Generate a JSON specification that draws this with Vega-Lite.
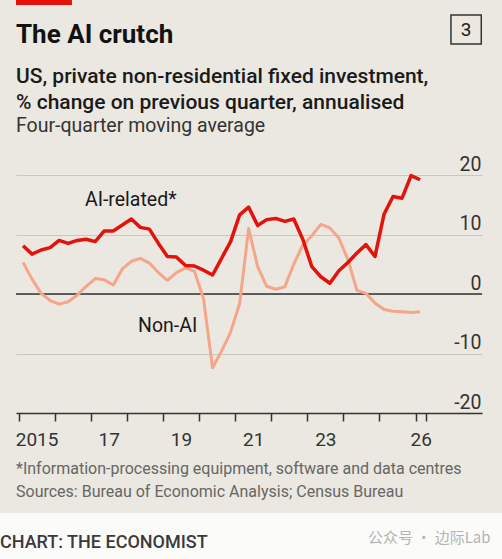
{
  "$schema": "https://vega.github.io/schema/vega-lite/v6.json",
  "width": 466,
  "height": 238,
  "autosize": {"type": "none"},
  "padding": {"left": 16, "top": 175, "right": 20, "bottom": 146},
  "background": "#eae8e0",
  "config": {"view": {"stroke": null}, "font": "Roboto"},
  "datasets": {
    "series": [
      {"t": 2015.125, "ai": 8.1, "nonai": 5.3},
      {"t": 2015.375, "ai": 6.7, "nonai": 2.5},
      {"t": 2015.625, "ai": 7.4, "nonai": 0.1},
      {"t": 2015.875, "ai": 7.8, "nonai": -1.1},
      {"t": 2016.125, "ai": 9.0, "nonai": -1.7},
      {"t": 2016.375, "ai": 8.5, "nonai": -1.3},
      {"t": 2016.625, "ai": 9.0, "nonai": -0.2},
      {"t": 2016.875, "ai": 9.2, "nonai": 1.3},
      {"t": 2017.125, "ai": 8.8, "nonai": 2.6},
      {"t": 2017.375, "ai": 10.6, "nonai": 2.4},
      {"t": 2017.625, "ai": 10.6, "nonai": 1.5},
      {"t": 2017.875, "ai": 11.6, "nonai": 4.2},
      {"t": 2018.125, "ai": 12.6, "nonai": 5.5},
      {"t": 2018.375, "ai": 11.2, "nonai": 6.0},
      {"t": 2018.625, "ai": 10.9, "nonai": 5.2},
      {"t": 2018.875, "ai": 8.5, "nonai": 3.6},
      {"t": 2019.125, "ai": 6.3, "nonai": 2.3},
      {"t": 2019.375, "ai": 6.2, "nonai": 3.6},
      {"t": 2019.625, "ai": 4.8, "nonai": 4.4},
      {"t": 2019.875, "ai": 4.7, "nonai": 3.8},
      {"t": 2020.125, "ai": 4.0, "nonai": -0.8},
      {"t": 2020.375, "ai": 3.2, "nonai": -12.4},
      {"t": 2020.625, "ai": 6.0, "nonai": -9.6},
      {"t": 2020.875, "ai": 8.8, "nonai": -6.4},
      {"t": 2021.125, "ai": 13.3, "nonai": -1.6},
      {"t": 2021.375, "ai": 14.6, "nonai": 11.0},
      {"t": 2021.625, "ai": 11.5, "nonai": 4.6},
      {"t": 2021.875, "ai": 12.5, "nonai": 1.3},
      {"t": 2022.125, "ai": 12.7, "nonai": 0.8},
      {"t": 2022.375, "ai": 12.2, "nonai": 1.2},
      {"t": 2022.625, "ai": 12.6, "nonai": 5.0},
      {"t": 2022.875, "ai": 9.2, "nonai": 8.2},
      {"t": 2023.125, "ai": 4.6, "nonai": 9.8},
      {"t": 2023.375, "ai": 2.9, "nonai": 11.7},
      {"t": 2023.625, "ai": 1.8, "nonai": 11.1},
      {"t": 2023.875, "ai": 3.9, "nonai": 9.4},
      {"t": 2024.125, "ai": 5.3, "nonai": 5.8},
      {"t": 2024.375, "ai": 6.9, "nonai": 0.6},
      {"t": 2024.625, "ai": 8.3, "nonai": 0.1},
      {"t": 2024.875, "ai": 6.3, "nonai": -1.5},
      {"t": 2025.125, "ai": 13.4, "nonai": -2.6},
      {"t": 2025.375, "ai": 16.4, "nonai": -2.9},
      {"t": 2025.625, "ai": 16.1, "nonai": -3.0},
      {"t": 2025.875, "ai": 19.9, "nonai": -3.1},
      {"t": 2026.125, "ai": 19.2, "nonai": -3.0}
    ],
    "one": [{}]
  },
  "resolve": {"axis": {"x": "independent", "y": "independent"}},
  "layer": [
    {
      "data": {"name": "one"},
      "mark": {"type": "rect", "fill": "#fbfbfa"},
      "encoding": {
        "x": {"datum": 2014.3, "type": "quantitative", "axis": null, "scale": {"domain": [2014.93, 2027.84], "nice": false, "zero": false}},
        "x2": {"datum": 2028.6},
        "y": {"datum": -36.8, "type": "quantitative", "axis": null, "scale": {"domain": [-20, 20], "nice": false, "zero": false}},
        "y2": {"datum": -47}
      }
    },
    {
      "data": {"name": "one"},
      "mark": {"type": "rect", "fill": "#e3120b"},
      "encoding": {
        "x": {"datum": 2014.93, "type": "quantitative", "axis": null},
        "x2": {"datum": 2016.48},
        "y": {"datum": 50.5, "type": "quantitative", "axis": null},
        "y2": {"datum": 48.57}
      }
    },
    {
      "data": {"name": "one"},
      "mark": {"type": "rect", "fill": null, "stroke": "#333333", "strokeWidth": 1.5},
      "encoding": {
        "x": {"datum": 2026.98, "type": "quantitative", "axis": null},
        "x2": {"datum": 2027.82},
        "y": {"datum": 46.89, "type": "quantitative", "axis": null},
        "y2": {"datum": 42.02}
      }
    },
    {
      "data": {"name": "one"},
      "mark": {"type": "text", "text": "3", "align": "center", "baseline": "middle", "fontSize": 19, "color": "#1a1a1a"},
      "encoding": {
        "x": {"datum": 2027.4, "type": "quantitative", "axis": null},
        "y": {"datum": 44.45, "type": "quantitative", "axis": null}
      }
    },
    {
      "data": {"name": "one"},
      "mark": {"type": "text", "text": "The AI crutch", "align": "left", "baseline": "alphabetic", "fontSize": 26, "fontWeight": "bold", "color": "#121212"},
      "encoding": {
        "x": {"datum": 2014.93, "type": "quantitative", "axis": null},
        "y": {"datum": 42.18, "type": "quantitative", "axis": null}
      }
    },
    {
      "data": {"name": "one"},
      "mark": {"type": "text", "text": "US, private non-residential fixed investment,", "align": "left", "baseline": "alphabetic", "fontSize": 21, "fontWeight": 500, "color": "#1a1a1a"},
      "encoding": {
        "x": {"datum": 2014.93, "type": "quantitative", "axis": null},
        "y": {"datum": 35.46, "type": "quantitative", "axis": null}
      }
    },
    {
      "data": {"name": "one"},
      "mark": {"type": "text", "text": "% change on previous quarter, annualised", "align": "left", "baseline": "alphabetic", "fontSize": 21, "fontWeight": 500, "color": "#1a1a1a"},
      "encoding": {
        "x": {"datum": 2014.93, "type": "quantitative", "axis": null},
        "y": {"datum": 31.09, "type": "quantitative", "axis": null}
      }
    },
    {
      "data": {"name": "one"},
      "mark": {"type": "text", "text": "Four-quarter moving average", "align": "left", "baseline": "alphabetic", "fontSize": 19.5, "fontWeight": "normal", "color": "#333333"},
      "encoding": {
        "x": {"datum": 2014.93, "type": "quantitative", "axis": null},
        "y": {"datum": 27.15, "type": "quantitative", "axis": null}
      }
    },
    {
      "data": {"name": "one"},
      "mark": {"type": "rule", "stroke": "#333333", "strokeWidth": 1.5},
      "encoding": {
        "y": {"datum": 0, "type": "quantitative", "axis": null}
      }
    },
    {
      "data": {"name": "series"},
      "mark": {"type": "line", "stroke": "#f5a68a", "strokeWidth": 3, "strokeJoin": "round", "strokeCap": "butt"},
      "encoding": {
        "x": {
          "field": "t", "type": "quantitative",
          "axis": {
            "orient": "bottom",
            "values": [2015, 2016, 2017, 2018, 2019, 2020, 2021, 2022, 2023, 2024, 2025, 2026, 2026.29],
            "labels": false, "ticks": true, "tickSize": 8, "tickWidth": 1.5, "tickColor": "#333333",
            "domain": true, "domainColor": "#333333", "domainWidth": 1.5, "grid": false, "title": null
          }
        },
        "y": {
          "field": "nonai", "type": "quantitative",
          "axis": {
            "orient": "right", "values": [-20, -10, 0, 10, 20], "grid": true, "gridColor": "#c9c8c0", "gridWidth": 1,
            "ticks": false, "tickSize": 0, "domain": false, "labelAlign": "right", "labelPadding": -1,
            "labelBaseline": "alphabetic", "labelOffset": -5, "labelFlush": false, "labelOverlap": false,
            "labelFontSize": 19.5, "labelColor": "#333333",
            "labelExpr": "datum.value < 0 ? '-' + abs(datum.value) : '' + datum.value", "title": null
          }
        }
      }
    },
    {
      "data": {"name": "series"},
      "mark": {"type": "line", "stroke": "#e3120b", "strokeWidth": 3.5, "strokeJoin": "round", "strokeCap": "butt"},
      "encoding": {
        "x": {
          "field": "t", "type": "quantitative",
          "axis": {
            "orient": "bottom",
            "values": [2015.5, 2017.5, 2019.5, 2021.5, 2023.5, 2026.14],
            "labelExpr": "datum.value < 2016 ? '2015' : '' + (floor(datum.value) - 2000)",
            "ticks": false, "tickSize": 0, "domain": false, "grid": false,
            "labelFontSize": 19, "labelColor": "#333333", "labelBaseline": "alphabetic", "labelAlign": "center",
            "labelPadding": 32, "labelFlush": false, "labelOverlap": false, "title": null
          }
        },
        "y": {"field": "ai", "type": "quantitative", "axis": null}
      }
    },
    {
      "data": {"name": "one"},
      "mark": {"type": "text", "text": "AI-related*", "align": "left", "baseline": "alphabetic", "fontSize": 19.5, "color": "#1a1a1a"},
      "encoding": {
        "x": {"datum": 2016.84, "type": "quantitative", "axis": null},
        "y": {"datum": 14.87, "type": "quantitative", "axis": null}
      }
    },
    {
      "data": {"name": "one"},
      "mark": {"type": "text", "text": "Non-AI", "align": "left", "baseline": "alphabetic", "fontSize": 19.5, "color": "#1a1a1a"},
      "encoding": {
        "x": {"datum": 2018.31, "type": "quantitative", "axis": null},
        "y": {"datum": -6.39, "type": "quantitative", "axis": null}
      }
    },
    {
      "data": {"name": "one"},
      "mark": {"type": "text", "text": "*Information-processing equipment, software and data centres", "align": "left", "baseline": "alphabetic", "fontSize": 16, "color": "#666666"},
      "encoding": {
        "x": {"datum": 2014.93, "type": "quantitative", "axis": null},
        "y": {"datum": -30.25, "type": "quantitative", "axis": null}
      }
    },
    {
      "data": {"name": "one"},
      "mark": {"type": "text", "text": "Sources: Bureau of Economic Analysis; Census Bureau", "align": "left", "baseline": "alphabetic", "fontSize": 16, "color": "#666666"},
      "encoding": {
        "x": {"datum": 2014.93, "type": "quantitative", "axis": null},
        "y": {"datum": -34.12, "type": "quantitative", "axis": null}
      }
    },
    {
      "data": {"name": "one"},
      "mark": {"type": "text", "text": "CHART: THE ECONOMIST", "align": "left", "baseline": "alphabetic", "fontSize": 18, "fontWeight": 500, "color": "#3a3a3a"},
      "encoding": {
        "x": {"datum": 2014.487, "type": "quantitative", "axis": null},
        "y": {"datum": -42.69, "type": "quantitative", "axis": null}
      }
    },
    {
      "data": {"name": "one"},
      "mark": {"type": "text", "text": "公众号 · 边际Lab", "align": "left", "baseline": "middle", "fontSize": 15, "font": "Noto Sans CJK SC", "color": "#b4b4b4"},
      "encoding": {
        "x": {"datum": 2024.68, "type": "quantitative", "axis": null},
        "y": {"datum": -41.01, "type": "quantitative", "axis": null}
      }
    }
  ]
}
